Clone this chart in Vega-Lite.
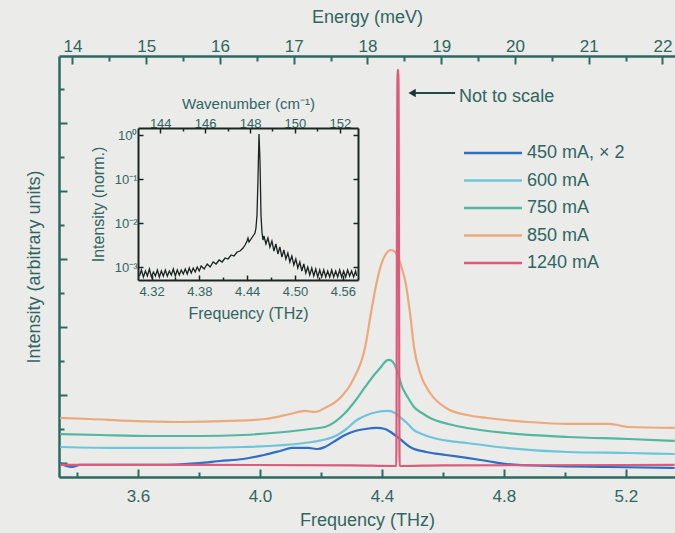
{
  "$schema": "https://vega.github.io/schema/vega-lite/v6.json",
  "width": 616,
  "height": 421,
  "autosize": {"type": "none"},
  "padding": {"left": 59, "top": 56, "right": 0, "bottom": 56},
  "background": "#ebebe9",
  "config": {
    "font": "Liberation Sans",
    "view": {"stroke": null},
    "axis": {
      "grid": false,
      "domainColor": "#2a6a60",
      "domainWidth": 2.5,
      "tickColor": "#2a6a60",
      "tickWidth": 2,
      "labelColor": "#2f6662",
      "titleColor": "#2f6662",
      "labelFont": "Liberation Sans",
      "titleFont": "Liberation Sans",
      "titleFontWeight": "normal",
      "labelOverlap": false,
      "labelFlush": false,
      "labelBound": false
    }
  },
  "datasets": {
    "spectra": [
      {"freq": 3.345, "intensity": 0, "series": "450 mA, × 2"},
      {"freq": 3.364, "intensity": -0.044, "series": "450 mA, × 2"},
      {"freq": 3.384, "intensity": -0.059, "series": "450 mA, × 2"},
      {"freq": 3.41, "intensity": -0.029, "series": "450 mA, × 2"},
      {"freq": 3.541, "intensity": -0.029, "series": "450 mA, × 2"},
      {"freq": 3.672, "intensity": -0.029, "series": "450 mA, × 2"},
      {"freq": 3.8, "intensity": 0, "series": "450 mA, × 2"},
      {"freq": 3.869, "intensity": 0.029, "series": "450 mA, × 2"},
      {"freq": 3.945, "intensity": 0.059, "series": "450 mA, × 2"},
      {"freq": 4.013, "intensity": 0.118, "series": "450 mA, × 2"},
      {"freq": 4.066, "intensity": 0.176, "series": "450 mA, × 2"},
      {"freq": 4.105, "intensity": 0.221, "series": "450 mA, × 2"},
      {"freq": 4.158, "intensity": 0.221, "series": "450 mA, × 2"},
      {"freq": 4.19, "intensity": 0.206, "series": "450 mA, × 2"},
      {"freq": 4.213, "intensity": 0.235, "series": "450 mA, × 2"},
      {"freq": 4.246, "intensity": 0.324, "series": "450 mA, × 2"},
      {"freq": 4.279, "intensity": 0.412, "series": "450 mA, × 2"},
      {"freq": 4.312, "intensity": 0.471, "series": "450 mA, × 2"},
      {"freq": 4.345, "intensity": 0.5, "series": "450 mA, × 2"},
      {"freq": 4.384, "intensity": 0.515, "series": "450 mA, × 2"},
      {"freq": 4.41, "intensity": 0.5, "series": "450 mA, × 2"},
      {"freq": 4.433, "intensity": 0.441, "series": "450 mA, × 2"},
      {"freq": 4.459, "intensity": 0.353, "series": "450 mA, × 2"},
      {"freq": 4.492, "intensity": 0.235, "series": "450 mA, × 2"},
      {"freq": 4.545, "intensity": 0.162, "series": "450 mA, × 2"},
      {"freq": 4.61, "intensity": 0.118, "series": "450 mA, × 2"},
      {"freq": 4.679, "intensity": 0.074, "series": "450 mA, × 2"},
      {"freq": 4.745, "intensity": 0.029, "series": "450 mA, × 2"},
      {"freq": 4.81, "intensity": -0.015, "series": "450 mA, × 2"},
      {"freq": 4.945, "intensity": -0.044, "series": "450 mA, × 2"},
      {"freq": 5.145, "intensity": -0.059, "series": "450 mA, × 2"},
      {"freq": 5.36, "intensity": -0.074, "series": "450 mA, × 2"},

      {"freq": 3.345, "intensity": 0.235, "series": "600 mA"},
      {"freq": 3.541, "intensity": 0.221, "series": "600 mA"},
      {"freq": 3.738, "intensity": 0.221, "series": "600 mA"},
      {"freq": 3.945, "intensity": 0.235, "series": "600 mA"},
      {"freq": 4.145, "intensity": 0.294, "series": "600 mA"},
      {"freq": 4.24, "intensity": 0.382, "series": "600 mA"},
      {"freq": 4.279, "intensity": 0.485, "series": "600 mA"},
      {"freq": 4.318, "intensity": 0.632, "series": "600 mA"},
      {"freq": 4.351, "intensity": 0.706, "series": "600 mA"},
      {"freq": 4.384, "intensity": 0.75, "series": "600 mA"},
      {"freq": 4.42, "intensity": 0.765, "series": "600 mA"},
      {"freq": 4.443, "intensity": 0.735, "series": "600 mA"},
      {"freq": 4.459, "intensity": 0.676, "series": "600 mA"},
      {"freq": 4.482, "intensity": 0.588, "series": "600 mA"},
      {"freq": 4.505, "intensity": 0.485, "series": "600 mA"},
      {"freq": 4.531, "intensity": 0.426, "series": "600 mA"},
      {"freq": 4.558, "intensity": 0.382, "series": "600 mA"},
      {"freq": 4.617, "intensity": 0.324, "series": "600 mA"},
      {"freq": 4.679, "intensity": 0.294, "series": "600 mA"},
      {"freq": 4.81, "intensity": 0.221, "series": "600 mA"},
      {"freq": 5.01, "intensity": 0.162, "series": "600 mA"},
      {"freq": 5.21, "intensity": 0.147, "series": "600 mA"},
      {"freq": 5.36, "intensity": 0.132, "series": "600 mA"},

      {"freq": 3.345, "intensity": 0.426, "series": "750 mA"},
      {"freq": 3.476, "intensity": 0.412, "series": "750 mA"},
      {"freq": 3.64, "intensity": 0.397, "series": "750 mA"},
      {"freq": 3.804, "intensity": 0.397, "series": "750 mA"},
      {"freq": 3.945, "intensity": 0.412, "series": "750 mA"},
      {"freq": 4.079, "intensity": 0.456, "series": "750 mA"},
      {"freq": 4.164, "intensity": 0.5, "series": "750 mA"},
      {"freq": 4.213, "intensity": 0.529, "series": "750 mA"},
      {"freq": 4.279, "intensity": 0.735, "series": "750 mA"},
      {"freq": 4.312, "intensity": 0.912, "series": "750 mA"},
      {"freq": 4.345, "intensity": 1.118, "series": "750 mA"},
      {"freq": 4.377, "intensity": 1.309, "series": "750 mA"},
      {"freq": 4.397, "intensity": 1.412, "series": "750 mA"},
      {"freq": 4.413, "intensity": 1.5, "series": "750 mA"},
      {"freq": 4.423, "intensity": 1.515, "series": "750 mA"},
      {"freq": 4.436, "intensity": 1.485, "series": "750 mA"},
      {"freq": 4.449, "intensity": 1.368, "series": "750 mA"},
      {"freq": 4.466, "intensity": 1.118, "series": "750 mA"},
      {"freq": 4.486, "intensity": 0.956, "series": "750 mA"},
      {"freq": 4.505, "intensity": 0.824, "series": "750 mA"},
      {"freq": 4.531, "intensity": 0.735, "series": "750 mA"},
      {"freq": 4.558, "intensity": 0.662, "series": "750 mA"},
      {"freq": 4.617, "intensity": 0.574, "series": "750 mA"},
      {"freq": 4.679, "intensity": 0.515, "series": "750 mA"},
      {"freq": 4.81, "intensity": 0.441, "series": "750 mA"},
      {"freq": 5.01, "intensity": 0.382, "series": "750 mA"},
      {"freq": 5.21, "intensity": 0.353, "series": "750 mA"},
      {"freq": 5.36, "intensity": 0.324, "series": "750 mA"},

      {"freq": 3.345, "intensity": 0.662, "series": "850 mA"},
      {"freq": 3.443, "intensity": 0.647, "series": "850 mA"},
      {"freq": 3.574, "intensity": 0.618, "series": "850 mA"},
      {"freq": 3.738, "intensity": 0.603, "series": "850 mA"},
      {"freq": 3.902, "intensity": 0.618, "series": "850 mA"},
      {"freq": 4.017, "intensity": 0.647, "series": "850 mA"},
      {"freq": 4.099, "intensity": 0.721, "series": "850 mA"},
      {"freq": 4.148, "intensity": 0.765, "series": "850 mA"},
      {"freq": 4.181, "intensity": 0.75, "series": "850 mA"},
      {"freq": 4.213, "intensity": 0.809, "series": "850 mA"},
      {"freq": 4.266, "intensity": 0.971, "series": "850 mA"},
      {"freq": 4.305, "intensity": 1.221, "series": "850 mA"},
      {"freq": 4.345, "intensity": 1.706, "series": "850 mA"},
      {"freq": 4.364, "intensity": 2.206, "series": "850 mA"},
      {"freq": 4.381, "intensity": 2.618, "series": "850 mA"},
      {"freq": 4.397, "intensity": 2.912, "series": "850 mA"},
      {"freq": 4.413, "intensity": 3.074, "series": "850 mA"},
      {"freq": 4.43, "intensity": 3.132, "series": "850 mA"},
      {"freq": 4.446, "intensity": 3.088, "series": "850 mA"},
      {"freq": 4.463, "intensity": 2.897, "series": "850 mA"},
      {"freq": 4.479, "intensity": 2.618, "series": "850 mA"},
      {"freq": 4.492, "intensity": 2.206, "series": "850 mA"},
      {"freq": 4.505, "intensity": 1.706, "series": "850 mA"},
      {"freq": 4.525, "intensity": 1.324, "series": "850 mA"},
      {"freq": 4.558, "intensity": 1.029, "series": "850 mA"},
      {"freq": 4.61, "intensity": 0.809, "series": "850 mA"},
      {"freq": 4.679, "intensity": 0.706, "series": "850 mA"},
      {"freq": 4.745, "intensity": 0.662, "series": "850 mA"},
      {"freq": 4.879, "intensity": 0.603, "series": "850 mA"},
      {"freq": 5.01, "intensity": 0.574, "series": "850 mA"},
      {"freq": 5.145, "intensity": 0.574, "series": "850 mA"},
      {"freq": 5.21, "intensity": 0.529, "series": "850 mA"},
      {"freq": 5.36, "intensity": 0.515, "series": "850 mA"},

      {"freq": 3.345, "intensity": -0.029, "series": "1240 mA"},
      {"freq": 3.804, "intensity": -0.029, "series": "1240 mA"},
      {"freq": 4.3, "intensity": -0.035, "series": "1240 mA"},
      {"freq": 4.447, "intensity": -0.044, "series": "1240 mA"},
      {"freq": 4.451, "intensity": 5.779, "series": "1240 mA"},
      {"freq": 4.454, "intensity": 5.779, "series": "1240 mA"},
      {"freq": 4.458, "intensity": -0.044, "series": "1240 mA"},
      {"freq": 4.6, "intensity": -0.035, "series": "1240 mA"},
      {"freq": 5.36, "intensity": -0.029, "series": "1240 mA"}
    ],
    "inset": [
      {"f": 4.3048, "i": 0.000627}, {"f": 4.3073, "i": 0.000859}, {"f": 4.3098, "i": 0.000595},
      {"f": 4.3123, "i": 0.000815}, {"f": 4.3148, "i": 0.000627}, {"f": 4.3173, "i": 0.000905},
      {"f": 4.3198, "i": 0.000595}, {"f": 4.3223, "i": 0.000773}, {"f": 4.3248, "i": 0.000627},
      {"f": 4.3273, "i": 0.000859}, {"f": 4.3298, "i": 0.000595}, {"f": 4.3323, "i": 0.000815},
      {"f": 4.3348, "i": 0.000627}, {"f": 4.3373, "i": 0.000859}, {"f": 4.3398, "i": 0.000627},
      {"f": 4.3423, "i": 0.000815}, {"f": 4.3448, "i": 0.000661}, {"f": 4.3473, "i": 0.000905},
      {"f": 4.3498, "i": 0.000627}, {"f": 4.3523, "i": 0.000859}, {"f": 4.3548, "i": 0.000661},
      {"f": 4.3573, "i": 0.000859}, {"f": 4.3598, "i": 0.000696}, {"f": 4.3623, "i": 0.000905},
      {"f": 4.3648, "i": 0.000696}, {"f": 4.3673, "i": 0.000954}, {"f": 4.3698, "i": 0.000734},
      {"f": 4.3723, "i": 0.000954}, {"f": 4.3748, "i": 0.000773}, {"f": 4.3773, "i": 0.001005},
      {"f": 4.3798, "i": 0.000815}, {"f": 4.3823, "i": 0.001059}, {"f": 4.386, "i": 0.000905},
      {"f": 4.3898, "i": 0.001176}, {"f": 4.3935, "i": 0.001005}, {"f": 4.3973, "i": 0.001306},
      {"f": 4.401, "i": 0.001176}, {"f": 4.4048, "i": 0.001451}, {"f": 4.4085, "i": 0.001306},
      {"f": 4.4123, "i": 0.001611}, {"f": 4.416, "i": 0.001529}, {"f": 4.4198, "i": 0.001886},
      {"f": 4.4235, "i": 0.00179}, {"f": 4.4273, "i": 0.002208}, {"f": 4.431, "i": 0.002326},
      {"f": 4.4348, "i": 0.002723}, {"f": 4.4373, "i": 0.003188}, {"f": 4.4398, "i": 0.003932},
      {"f": 4.441, "i": 0.004602}, {"f": 4.4423, "i": 0.003731}, {"f": 4.4448, "i": 0.004367},
      {"f": 4.4473, "i": 0.00511}, {"f": 4.4498, "i": 0.00598}, {"f": 4.451, "i": 0.007775},
      {"f": 4.4523, "i": 0.01537}, {"f": 4.4535, "i": 0.0964}, {"f": 4.4548, "i": 1.076},
      {"f": 4.456, "i": 0.2752}, {"f": 4.4573, "i": 0.01537}, {"f": 4.4585, "i": 0.006302},
      {"f": 4.4598, "i": 0.004144}, {"f": 4.461, "i": 0.00511}, {"f": 4.4635, "i": 0.003359},
      {"f": 4.466, "i": 0.004602}, {"f": 4.4685, "i": 0.00287}, {"f": 4.471, "i": 0.003932},
      {"f": 4.4735, "i": 0.002326}, {"f": 4.476, "i": 0.003359}, {"f": 4.4785, "i": 0.001988},
      {"f": 4.481, "i": 0.00287}, {"f": 4.4835, "i": 0.001698}, {"f": 4.486, "i": 0.002452},
      {"f": 4.4885, "i": 0.001529}, {"f": 4.491, "i": 0.002095}, {"f": 4.4935, "i": 0.001306},
      {"f": 4.496, "i": 0.00179}, {"f": 4.4985, "i": 0.001116}, {"f": 4.501, "i": 0.001529},
      {"f": 4.5035, "i": 0.000954}, {"f": 4.506, "i": 0.001306}, {"f": 4.5085, "i": 0.000815},
      {"f": 4.511, "i": 0.001176}, {"f": 4.5135, "i": 0.000734}, {"f": 4.516, "i": 0.001005},
      {"f": 4.5185, "i": 0.000661}, {"f": 4.521, "i": 0.000954}, {"f": 4.5235, "i": 0.000627},
      {"f": 4.526, "i": 0.000905}, {"f": 4.5285, "i": 0.000595}, {"f": 4.531, "i": 0.000859},
      {"f": 4.5335, "i": 0.000595}, {"f": 4.536, "i": 0.000859}, {"f": 4.5385, "i": 0.000595},
      {"f": 4.541, "i": 0.000815}, {"f": 4.5435, "i": 0.000595}, {"f": 4.546, "i": 0.000859},
      {"f": 4.5485, "i": 0.000595}, {"f": 4.551, "i": 0.000815}, {"f": 4.5535, "i": 0.000595},
      {"f": 4.556, "i": 0.000859}, {"f": 4.5585, "i": 0.000595}, {"f": 4.561, "i": 0.000815},
      {"f": 4.5635, "i": 0.000595}, {"f": 4.566, "i": 0.000859}, {"f": 4.5685, "i": 0.000627},
      {"f": 4.571, "i": 0.000815}, {"f": 4.5735, "i": 0.000595}, {"f": 4.576, "i": 0.000815},
      {"f": 4.5773, "i": 0.000627}
    ]
  },
  "layer": [
    {
      "data": {"name": "spectra"},
      "mark": {"type": "line", "strokeWidth": 2.2, "clip": true, "interpolate": "monotone"},
      "encoding": {
        "x": {
          "field": "freq", "type": "quantitative",
          "scale": {"domain": [3.341, 5.361], "nice": false, "zero": false},
          "axis": {
            "orient": "bottom",
            "title": "Frequency (THz)",
            "values": [3.4, 3.6, 3.8, 4.0, 4.2, 4.4, 4.6, 4.8, 5.0, 5.2],
            "labelExpr": "round(datum.value*5)%2==0 ? format(datum.value,'.1f') : ''",
            "tickSize": {"condition": {"test": "round(datum.value*5)%2==0", "value": -8}, "value": -5},
            "labelPadding": 19,
            "labelFontSize": 17,
            "titleFontSize": 18,
            "titlePadding": 4
          }
        },
        "y": {
          "field": "intensity", "type": "quantitative",
          "scale": {"domain": [-0.206, 5.985], "nice": false, "zero": false},
          "axis": {
            "orient": "left",
            "title": "Intensity (arbitrary units)",
            "values": [0, 0.5, 1, 1.5, 2, 2.5, 3, 3.5, 4, 4.5, 5, 5.5],
            "labels": false,
            "tickSize": {"condition": {"test": "datum.value%1==0", "value": -8}, "value": -5},
            "titleFontSize": 18,
            "titlePadding": 15
          }
        },
        "color": {
          "field": "series", "type": "nominal",
          "scale": {
            "domain": ["450 mA, × 2", "600 mA", "750 mA", "850 mA", "1240 mA"],
            "range": ["#2e6fc4", "#6cc5db", "#52b79e", "#eca97c", "#dc5b7c"]
          },
          "legend": {
            "orient": "none",
            "legendX": 425,
            "legendY": 88,
            "title": null,
            "padding": 0,
            "symbolType": "M-5,0L5,0",
            "symbolSize": 134.56,
            "symbolStrokeWidth": 2.5,
            "symbolFillColor": "transparent",
            "labelFont": "Liberation Sans",
            "labelFontSize": 18,
            "labelColor": "#2f6662",
            "labelOffset": 25,
            "rowPadding": 9.5
          }
        }
      }
    },
    {
      "data": {"values": [{"energy": 18}]},
      "mark": {"type": "point", "opacity": 0},
      "encoding": {
        "x": {
          "field": "energy", "type": "quantitative",
          "scale": {"domain": [13.817, 22.171], "nice": false, "zero": false},
          "axis": {
            "orient": "top",
            "title": "Energy (meV)",
            "values": [14, 14.5, 15, 15.5, 16, 16.5, 17, 17.5, 18, 18.5, 19, 19.5, 20, 20.5, 21, 21.5, 22],
            "labelExpr": "datum.value%1==0 ? format(datum.value,'d') : ''",
            "tickSize": {"condition": {"test": "datum.value%1==0", "value": -8}, "value": -5},
            "labelPadding": 9,
            "labelFontSize": 17,
            "titleFontSize": 18,
            "titlePadding": 8
          }
        }
      }
    },
    {
      "data": {"name": "inset"},
      "mark": {"type": "line", "stroke": "#1b2323", "strokeWidth": 1.3},
      "encoding": {
        "x": {
          "field": "f", "type": "quantitative",
          "scale": {"domain": [4.303, 4.579], "range": [79, 299], "nice": false, "zero": false},
          "axis": {
            "orient": "bottom",
            "offset": -197,
            "title": "Frequency (THz)",
            "values": [4.32, 4.35, 4.38, 4.41, 4.44, 4.47, 4.5, 4.53, 4.56],
            "labelExpr": "round(datum.value*100)%6==0 ? format(datum.value,'.2f') : ''",
            "tickSize": {"condition": {"test": "round(datum.value*100)%6==0", "value": -5}, "value": -3},
            "labelPadding": 10,
            "labelFontSize": 13,
            "titleFontSize": 16,
            "titlePadding": 5,
            "domainColor": "#1c2424",
            "domainWidth": 2,
            "tickColor": "#1c2424",
            "tickWidth": 1.5
          }
        },
        "y": {
          "field": "i", "type": "quantitative",
          "scale": {"type": "log", "domain": [0.000508, 1.476], "range": [224, 72], "nice": false, "zero": false},
          "axis": {
            "orient": "left",
            "offset": -79,
            "title": "Intensity (norm.)",
            "values": [0.001, 0.01, 0.1, 1],
            "labelExpr": "datum.value > 0.5 ? '10⁰' : datum.value > 0.05 ? '10⁻¹' : datum.value > 0.005 ? '10⁻²' : '10⁻³'",
            "tickSize": -5,
            "labelPadding": 6,
            "labelFontSize": 13,
            "titleFontSize": 16,
            "titlePadding": 8,
            "domainColor": "#1c2424",
            "domainWidth": 2,
            "tickColor": "#1c2424",
            "tickWidth": 1.5
          }
        }
      }
    },
    {
      "data": {"values": [{"wn": 148, "i": 0.01}]},
      "mark": {"type": "point", "opacity": 0},
      "encoding": {
        "x": {
          "field": "wn", "type": "quantitative",
          "scale": {"domain": [143.01, 152.81], "range": [79, 299], "nice": false, "zero": false},
          "axis": {
            "orient": "top",
            "offset": -72,
            "title": "Wavenumber (cm⁻¹)",
            "values": [144, 145, 146, 147, 148, 149, 150, 151, 152],
            "labelExpr": "datum.value%2==0 ? format(datum.value,'d') : ''",
            "tickSize": {"condition": {"test": "datum.value%2==0", "value": -5}, "value": -3},
            "labelPadding": 3,
            "labelFontSize": 13,
            "titleFontSize": 15,
            "titlePadding": 4,
            "domainColor": "#1c2424",
            "domainWidth": 2,
            "tickColor": "#1c2424",
            "tickWidth": 1.5
          }
        },
        "y": {
          "field": "i", "type": "quantitative",
          "scale": {"type": "log", "domain": [0.000508, 1.476], "range": [224, 72], "nice": false, "zero": false},
          "axis": {
            "orient": "right",
            "offset": -317,
            "title": null,
            "labels": false,
            "values": [0.001, 0.01, 0.1, 1],
            "tickSize": -5,
            "domainColor": "#1c2424",
            "domainWidth": 2,
            "tickColor": "#1c2424",
            "tickWidth": 1.5
          }
        }
      }
    },
    {
      "data": {"values": [{"x1": 4.499, "x2": 4.64, "y": 5.441, "xt": 4.653, "yt": 5.382, "label": "Not to scale"}]},
      "layer": [
        {
          "mark": {"type": "rule", "stroke": "#1f4a45", "strokeWidth": 2.2},
          "encoding": {
            "x": {"field": "x1", "type": "quantitative", "scale": {"domain": [3.341, 5.361], "nice": false, "zero": false}, "axis": null},
            "x2": {"field": "x2"},
            "y": {"field": "y", "type": "quantitative", "scale": {"domain": [-0.206, 5.985], "nice": false, "zero": false}, "axis": null}
          }
        },
        {
          "mark": {"type": "point", "shape": "triangle-left", "filled": true, "size": 70, "color": "#1d3633", "opacity": 1},
          "encoding": {
            "x": {"field": "x1", "type": "quantitative", "scale": {"domain": [3.341, 5.361], "nice": false, "zero": false}, "axis": null},
            "y": {"field": "y", "type": "quantitative", "scale": {"domain": [-0.206, 5.985], "nice": false, "zero": false}, "axis": null}
          }
        },
        {
          "mark": {"type": "text", "align": "left", "baseline": "middle", "fontSize": 18, "color": "#2f6662", "font": "Liberation Sans"},
          "encoding": {
            "x": {"field": "xt", "type": "quantitative", "scale": {"domain": [3.341, 5.361], "nice": false, "zero": false}, "axis": null},
            "y": {"field": "yt", "type": "quantitative", "scale": {"domain": [-0.206, 5.985], "nice": false, "zero": false}, "axis": null},
            "text": {"field": "label"}
          }
        }
      ]
    }
  ],
  "resolve": {
    "scale": {"x": "independent", "y": "independent"},
    "axis": {"x": "independent", "y": "independent"}
  }
}
